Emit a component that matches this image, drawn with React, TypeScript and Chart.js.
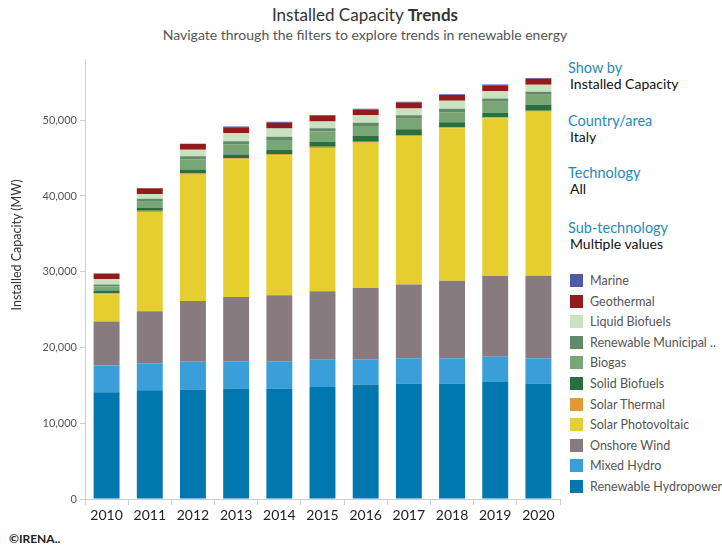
import React, { useEffect, useRef } from 'react';
import { Chart, registerables } from 'chart.js';
Chart.register(...registerables);

const years = ['2010', '2011', '2012', '2013', '2014', '2015', '2016', '2017', '2018', '2019', '2020'];
const hydro = [14080, 14340, 14470, 14600, 14600, 14780, 15130, 15260, 15260, 15430, 15260];
const mixedHydro = [3550, 3590, 3640, 3590, 3590, 3600, 3330, 3330, 3330, 3340, 3330];
const onshoreWind = [5790, 6840, 8030, 8470, 8700, 9050, 9400, 9740, 10230, 10680, 10870];
const solarPV = [3600, 13120, 16660, 18160, 18500, 18900, 19160, 19570, 20110, 20800, 21650];
const solarThermal = [150, 150, 150, 150, 150, 150, 150, 150, 150, 150, 150];
const solidBiofuels = [350, 360, 530, 490, 530, 660, 750, 750, 660, 570, 750];
const biogas = [530, 830, 1320, 1360, 1320, 1360, 1320, 1390, 1320, 1450, 1360];
const municipal = [250, 400, 430, 400, 430, 450, 430, 450, 450, 450, 400];
const liquidBiofuels = [700, 620, 880, 1090, 1090, 870, 970, 920, 1050, 960, 920];
const geothermal = [770, 770, 770, 770, 770, 770, 770, 770, 770, 770, 770];
const marine = [0, 0, 0, 100, 100, 100, 100, 100, 100, 100, 100];

const seriesNames = ['Renewable Hydropower', 'Mixed Hydro', 'Onshore Wind', 'Solar Photovoltaic', 'Solar Thermal', 'Solid Biofuels', 'Biogas', 'Renewable Municipal ..', 'Liquid Biofuels', 'Geothermal', 'Marine'];
const seriesColors = ['#0077AE', '#3A9FD8', '#887B7F', '#E6CE2F', '#E09A31', '#28703D', '#78A674', '#628A69', '#C9E3C1', '#921B1D', '#4E59A8'];
const seriesData = [hydro, mixedHydro, onshoreWind, solarPV, solarThermal, solidBiofuels, biogas, municipal, liquidBiofuels, geothermal, marine];

const yTicks = [0, 10000, 20000, 30000, 40000, 50000];

const filters = [
  ['Show by', 'Installed Capacity', 68],
  ['Country/area', 'Italy', 121],
  ['Technology', 'All', 173],
  ['Sub-technology', 'Multiple values', 228],
];

const FONT = 'Lato, "Open Sans", sans-serif';

export default function App() {
  const ref = useRef<HTMLCanvasElement>(null);
  useEffect(() => {
    if (!ref.current) return;
    const chart = new Chart(ref.current, {
      type: 'bar',
      data: {
        labels: years,
        datasets: seriesData.map((d, i) => ({
          label: seriesNames[i],
          data: d,
          backgroundColor: seriesColors[i],
          borderWidth: 0,
          barPercentage: 0.6,
          categoryPercentage: 1,
        })),
      },
      options: {
        responsive: false,
        animation: false,
        devicePixelRatio: 1,
        layout: { padding: { top: 7, right: 2, left: 0, bottom: 0 } },
        plugins: { legend: { display: false }, tooltip: { enabled: false }, title: { display: false } },
        scales: {
          x: {
            stacked: true,
            grid: { drawOnChartArea: false, drawTicks: true, tickLength: 6, color: '#d0d0d0' },
            border: { display: true, color: '#d0d0d0' },
            ticks: { color: '#222', font: { family: FONT, size: 14 }, padding: 2 },
            afterFit: (a: any) => { a.height = 31; },
          },
          y: {
            stacked: true,
            min: 0,
            max: 58000,
            grid: { drawOnChartArea: false, drawTicks: true, tickLength: 5, color: '#d0d0d0' },
            border: { display: true, color: '#d0d0d0' },
            afterBuildTicks: (a: any) => { a.ticks = yTicks.map((v) => ({ value: v })); },
            ticks: {
              color: '#555',
              font: { family: FONT, size: 11 },
              padding: 3,
              callback: (v: any) => Number(v).toLocaleString('en-US'),
            },
            afterFit: (a: any) => { a.width = 85; },
          },
        },
      },
    });
    return () => chart.destroy();
  }, []);

  const legendOrder = seriesNames.map((n, i) => i).reverse();

  return (
    <div style={{ position: 'absolute', left: 0, top: 0, width: 722, height: 548, background: '#fff', fontFamily: FONT, overflow: 'hidden' }}>
      <div style={{ position: 'absolute', left: 0, width: 730, top: 5, textAlign: 'center', fontSize: 17, color: '#333', lineHeight: '20px' }}>
        Installed Capacity <b>Trends</b>
      </div>
      <div style={{ position: 'absolute', left: 0, width: 730, top: 26, textAlign: 'center', fontSize: 14, color: '#555', lineHeight: '17px' }}>
        Navigate through the filters to explore trends in renewable energy
      </div>
      <canvas ref={ref} width={562} height={480} style={{ position: 'absolute', left: 0, top: 50, width: 562, height: 480 }} />
      <div style={{ position: 'absolute', left: 17 - 100, top: 245 - 8, width: 200, height: 16, lineHeight: '16px', textAlign: 'center', fontSize: 12.5, color: '#333', transform: 'rotate(-90deg)' }}>
        Installed Capacity (MW)
      </div>
      {filters.map(([h, v, y]) => (
        <React.Fragment key={h as string}>
          <div style={{ position: 'absolute', left: 568, top: (y as number) - 9, lineHeight: '18px', fontSize: 14.5, color: '#1F8AC0' }}>{h}</div>
          <div style={{ position: 'absolute', left: 570, top: (y as number) + 7, lineHeight: '18px', fontSize: 14, color: '#111' }}>{v}</div>
        </React.Fragment>
      ))}
      {legendOrder.map((i, k) => (
        <React.Fragment key={i}>
          <div style={{ position: 'absolute', left: 570, top: 274 + k * 20.6, width: 13, height: 13, background: seriesColors[i] }} />
          <div style={{ position: 'absolute', left: 590, top: 273 + k * 20.6, lineHeight: '16px', fontSize: 12.5, color: '#555', whiteSpace: 'nowrap' }}>{seriesNames[i]}</div>
        </React.Fragment>
      ))}
      <div style={{ position: 'absolute', left: 9, top: 531, lineHeight: '16px', fontSize: 12, fontWeight: 'bold', color: '#222' }}>©IRENA..</div>
    </div>
  );
}
